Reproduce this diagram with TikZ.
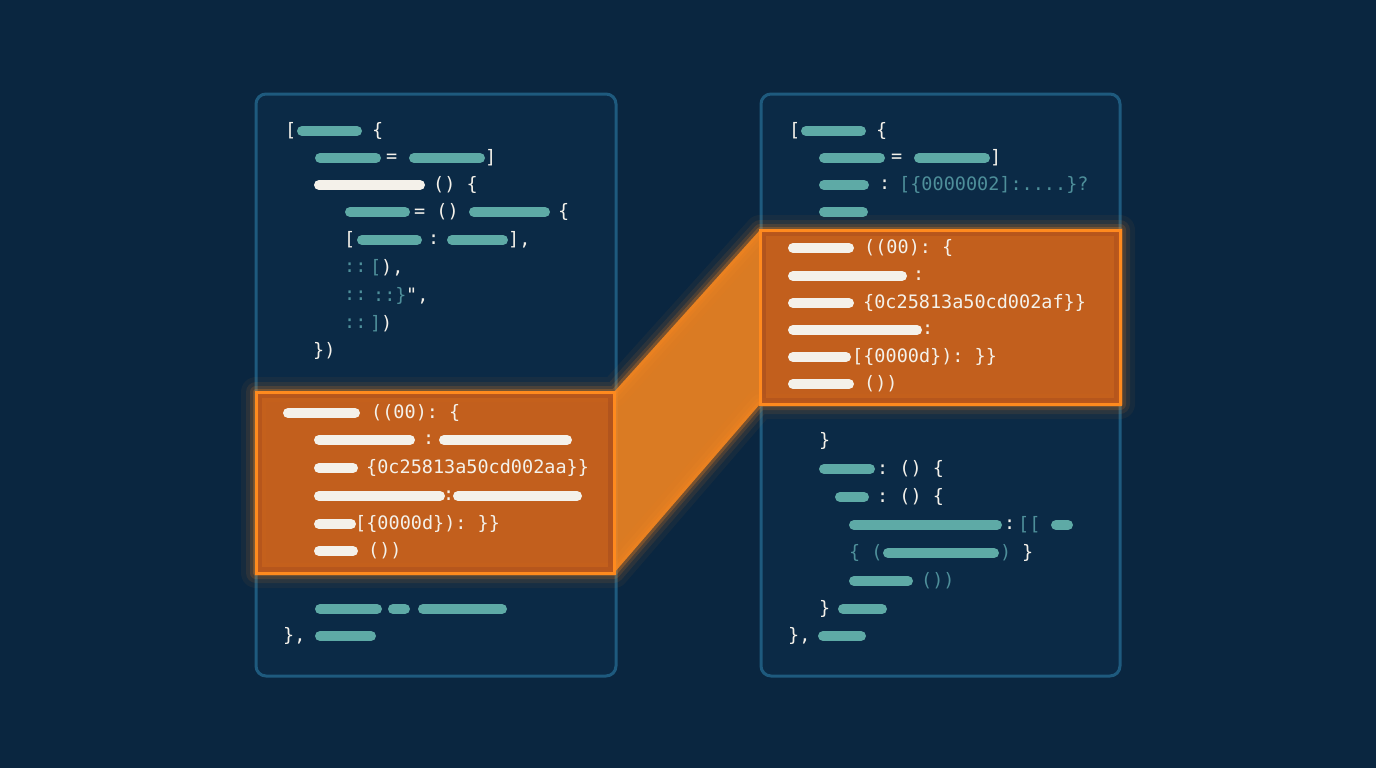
\documentclass[tikz,border=0pt]{standalone}
\usepackage{fontspec}
\setmonofont{DejaVu Sans Mono}
\begin{document}
\begin{tikzpicture}[x=1pt,y=-1pt]
\definecolor{bg}{HTML}{0A2640}
\definecolor{panel}{HTML}{0B2A46}
\definecolor{pedge}{HTML}{1E5A7E}
\definecolor{teal}{HTML}{5EAAA6}
\definecolor{dimteal}{HTML}{4E8F9A}
\definecolor{wht}{HTML}{F4F1EA}
\definecolor{org}{HTML}{FF8A1E}
\definecolor{orgfill}{HTML}{C0581A}
\tikzset{
 tbar/.style={line width=10pt,line cap=round,teal},
 wbar/.style={line width=10pt,line cap=round,wht},
 code/.style={anchor=west,inner sep=0pt,font=\ttfamily\fontsize{18.5}{18.5}\selectfont,text=wht},
 panelbox/.style={draw=pedge,line width=3pt,fill=panel,rounded corners=10pt},
}
\newcommand{\TB}[3]{\draw[tbar] (#1,#3) -- (#2,#3);}
\newcommand{\WB}[3]{\draw[wbar] (#1,#3) -- (#2,#3);}
\newcommand{\TX}[4][wht]{\node[code,text=#1] at (#2,#3) {#4};}
\fill[bg] (0,0) rectangle (1376,768);
\useasboundingbox (0,0) rectangle (1376,768);
\draw[panelbox] (256,94) rectangle (616,676);
\draw[panelbox] (761,94) rectangle (1120,676);
\foreach \w/\o in {30/0.05,20/0.09,12/0.15,6/0.25}{
 \draw[org,line width=\w pt,opacity=\o,line join=round] (256,392) -- (614,392) -- (760,230) -- (1120,230) -- (1120,404) -- (760,404) -- (614,573) -- (256,573) -- cycle;
}
\fill[org,opacity=0.85] (614,392) -- (760,230) -- (760,404) -- (614,573) -- cycle;
\fill[orgfill,opacity=0.92] (256,392) rectangle (614,573);
\fill[orgfill,opacity=0.92] (760,230) rectangle (1120,404);
\fill[org,opacity=0.22] (262,398) rectangle (608,567);
\fill[org,opacity=0.22] (766,236) rectangle (1114,398);
\draw[org,line width=3pt] (256,392) rectangle (614,573);
\draw[org,line width=3pt] (760,230) rectangle (1120,404);
\TX{285}{131}{[} \TB{302}{357}{131} \TX{372}{131}{\{}
\TB{320}{376}{158} \TX{386}{158}{=} \TB{414}{480}{158} \TX{485}{158}{]}
\WB{319}{420}{185} \TX{433}{185}{() \{}
\TB{350}{405}{212} \TX{414}{212}{= ()} \TB{474}{545}{212} \TX{558}{212}{\{}
\TX{344}{240}{[} \TB{362}{417}{240} \TX{428}{240}{:} \TB{452}{503}{240} \TX{508}{240}{],}
\TX[dimteal]{344}{268}{::} \TX[dimteal]{370}{268}{[} \TX{381}{268}{),}
\TX[dimteal]{344}{296}{::} \TX[dimteal]{373}{296}{::\}\kern-1pt} \TX{406}{296}{",}
\TX[dimteal]{344}{324}{::} \TX[dimteal]{370}{324}{]} \TX{381}{324}{)}
\TX{313}{351}{\})}
\WB{288}{355}{413} \TX{371}{413}{((00): \{}
\WB{319}{410}{440} \TX{423}{440}{:} \WB{444}{567}{440}
\WB{319}{353}{468} \TX{366}{468}{\{0c25813a50cd002aa\}\}}
\WB{319}{440}{496} \TX{443}{496}{:} \WB{458}{577}{496}
\WB{319}{351}{524} \TX{355}{524}{[\{0000d\}): \}\}}
\WB{319}{353}{551} \TX{368}{551}{())}
\TB{320}{377}{609} \TB{393}{405}{609} \TB{423}{502}{609}
\TX{283}{636}{\},} \TB{320}{371}{636}
\TX{789}{131}{[} \TB{806}{861}{131} \TX{876}{131}{\{}
\TB{824}{880}{158} \TX{891}{158}{=} \TB{919}{985}{158} \TX{990}{158}{]}
\TB{824}{864}{185} \TX{879}{185}{:} \TX[dimteal]{899}{185}{[\{0000002]:....\}?}
\TB{824}{863}{212}
\WB{793}{849}{248} \TX{864}{248}{((00): \{}
\WB{793}{902}{276} \TX{913}{276}{:}
\WB{793}{849}{303} \TX{863}{303}{\{0c25813a50cd002af\}\}}
\WB{793}{917}{330} \TX{922}{330}{:}
\WB{793}{846}{357} \TX{852}{357}{[\{0000d\}): \}\}}
\WB{793}{849}{384} \TX{864}{384}{())}
\TX{819}{441}{\}}
\TB{824}{870}{469} \TX{877}{469}{: () \{}
\TB{840}{864}{497} \TX{877}{497}{: () \{}
\TB{854}{997}{525} \TX{1004}{525}{:} \TX[dimteal]{1018}{525}{[[} \TB{1056}{1068}{525}
\TX[dimteal]{849}{553}{\{ (} \TB{888}{994}{553} \TX[dimteal]{1000}{553}{)} \TX{1022}{553}{\}}
\TB{854}{908}{581} \TX[dimteal]{921}{581}{())}
\TX{819}{609}{\}} \TB{843}{882}{609}
\TX{788}{636}{\},} \TB{823}{861}{636}
\end{tikzpicture}
\end{document}
